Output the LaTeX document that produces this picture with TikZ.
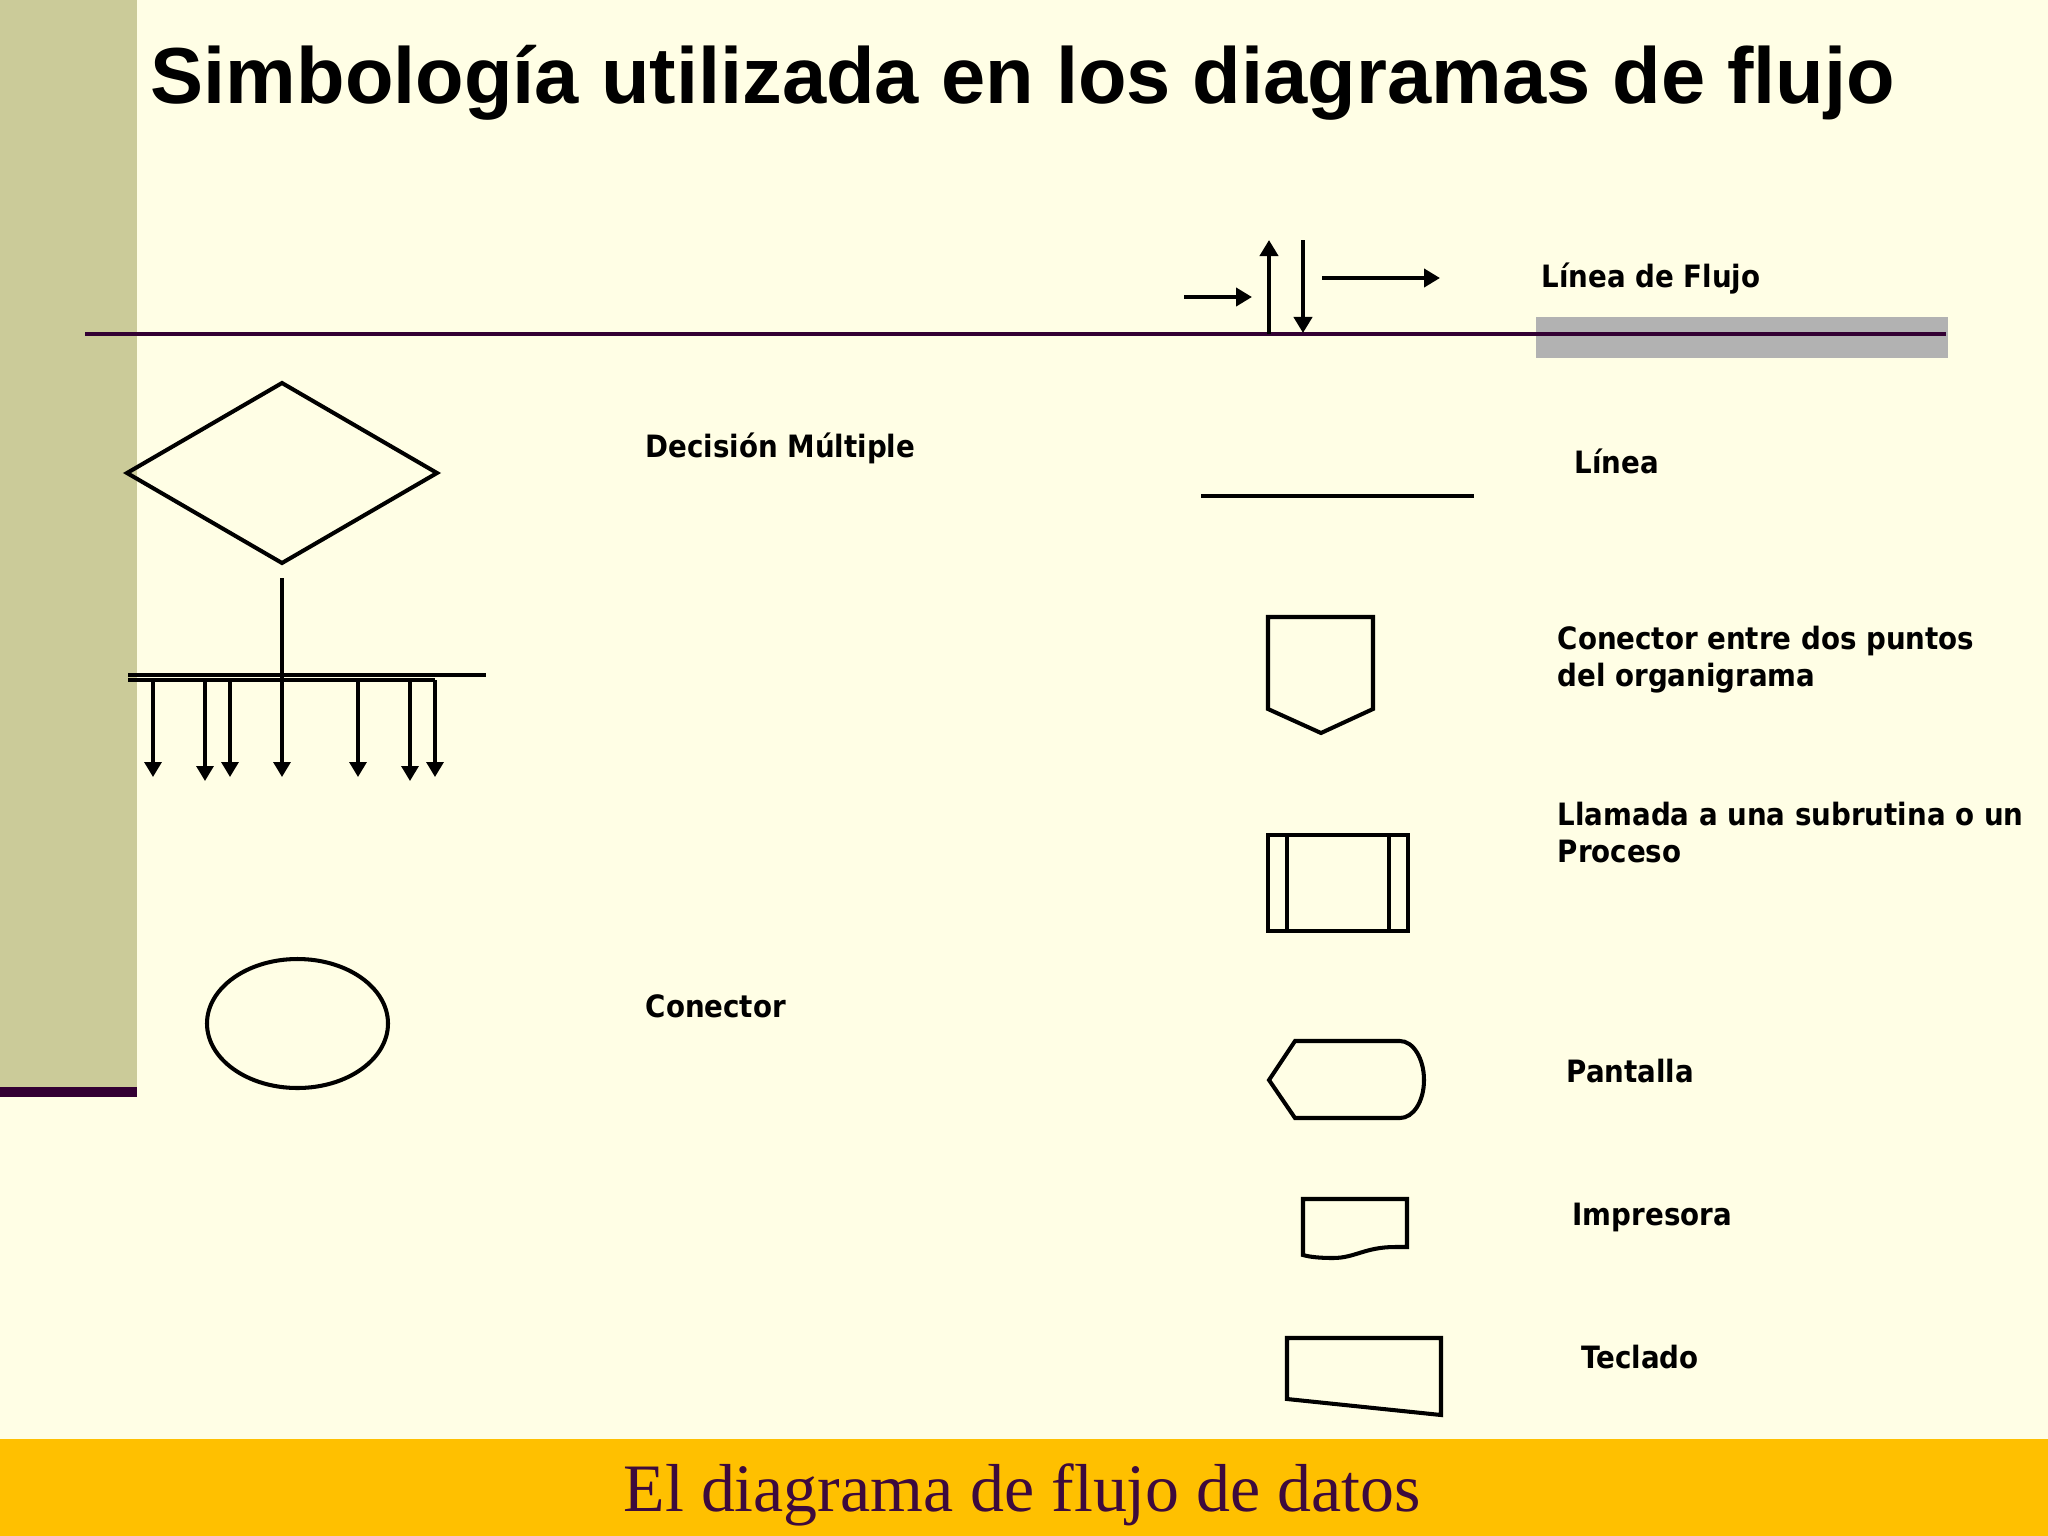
\documentclass[tikz,border=0pt]{standalone}
\usepackage{fontspec}
\usetikzlibrary{arrows.meta}
\newfontfamily\titlefont{Liberation Sans}
\newfontfamily\labfont{DejaVu Sans Condensed}
\newfontfamily\footfont{Liberation Serif}
\definecolor{bgcream}{HTML}{FFFEE5}
\definecolor{sideolive}{HTML}{CBCB99}
\definecolor{darkpurple}{HTML}{330033}
\definecolor{bandgray}{HTML}{B2B2B2}
\definecolor{baryellow}{HTML}{FFC000}
\definecolor{foottext}{HTML}{3D0A3D}
\tikzset{
  sym/.style={draw=black, line width=1.15pt, line join=miter},
  flowarrow/.style={draw=black, line width=1.2pt, -{Triangle[length=0.16cm, width=0.18cm]}},
  busarrow/.style={draw=black, line width=0.9pt, -{Triangle[length=0.15cm, width=0.17cm]}},
  lab/.style={inner sep=0pt, anchor=base west, font=\labfont\bfseries\fontsize{8.75pt}{10.5pt}\selectfont},
}
\begin{document}
\begin{tikzpicture}[x={(0.01cm,0)}, y={(0,-0.01cm)}]
\useasboundingbox (0,0) rectangle (2048,1536);
% background
\fill[bgcream] (0,0) rectangle (2048,1536);
\fill[sideolive] (0,0) rectangle (137,1087);
\fill[darkpurple] (0,1087) rectangle (137,1097);
\fill[baryellow] (0,1439) rectangle (2048,1536);
\fill[bandgray] (1536,317) rectangle (1948,358);
\draw[darkpurple, line width=1.3pt] (85,334) -- (1946,334);

% title
\node[inner sep=0pt, anchor=base west, font=\titlefont\bfseries\fontsize{22.6pt}{26pt}\selectfont] (title) at (150,103) {Simbología utilizada en los diagramas de flujo};

% flow lines
\coordinate (upS) at (1269,334); \coordinate (upE) at (1269,240);
\coordinate (dnS) at (1303,240); \coordinate (dnE) at (1303,333);
\coordinate (shS) at (1184,297); \coordinate (shE) at (1252,297);
\coordinate (lgS) at (1322,278); \coordinate (lgE) at (1440,278);
\draw[flowarrow] (upS) -- (upE);
\draw[flowarrow] (dnS) -- (dnE);
\draw[flowarrow] (shS) -- (shE);
\draw[flowarrow] (lgS) -- (lgE);
\node[lab] (lflujo) at (1541,287) {Línea de Flujo};

% decision multiple
\draw[sym] (127,473) -- (282,383) -- (437,473) -- (282,563) -- cycle;
\draw[busarrow] (282,578) -- (282,777);
\draw[black, line width=0.9pt] (128,675) -- (486,675);
\draw[black, line width=0.9pt] (128,680) -- (435,680);
\foreach \bx/\by in {153/777, 205/781, 230/777, 358/777, 410/781, 435/777}{
  \draw[busarrow] (\bx,680) -- (\bx,\by);
}
\node[lab] (ldec) at (645,457) {Decisión Múltiple};

% connector ellipse
\draw[sym] (297.5,1023.5) ellipse [x radius=90.5, y radius=64.5];
\node[lab] (lcon) at (645,1017) {Conector};

% linea
\draw[black, line width=0.9pt] (1201,496) -- (1474,496);
\node[lab] (llinea) at (1574,473) {Línea};

% off-page connector
\draw[sym] (1268,617) -- (1373,617) -- (1373,709) -- (1321,733) -- (1268,709) -- cycle;
\node[lab] (lcep1) at (1557,649) {Conector entre dos puntos};
\node[lab] (lcep2) at (1557,686) {del organigrama};

% predefined process
\draw[sym] (1268,835) rectangle (1408,931);
\draw[sym] (1287,835) -- (1287,931);
\draw[sym] (1389,835) -- (1389,931);
\node[lab] (lsub1) at (1557,825) {Llamada a una subrutina o un};
\node[lab] (lsub2) at (1557,862) {Proceso};

% display
\draw[sym] (1269,1080) -- (1295,1041) -- (1400,1041)
  .. controls (1413.3,1041) and (1424,1058.7) .. (1424,1080)
  .. controls (1424,1101.3) and (1413.3,1118) .. (1400,1118)
  -- (1295,1118) -- cycle;
\node[lab] (lpan) at (1566,1082) {Pantalla};

% printer (document)
\draw[sym] (1303,1199) -- (1407,1199) -- (1407,1247) -- (1395,1247)
  .. controls (1365,1247) and (1355,1258) .. (1333,1258)
  .. controls (1320,1258) and (1310,1257) .. (1303,1255) -- cycle;
\node[lab] (limp) at (1572,1225) {Impresora};

% keyboard (manual input)
\draw[sym] (1287,1338) -- (1441,1338) -- (1441,1415) -- (1287,1399) -- cycle;
\node[lab] (ltec) at (1581,1368) {Teclado};

% footer
\node[inner sep=0pt, anchor=base west, text=foottext, font=\footfont\fontsize{19.3pt}{22pt}\selectfont] (foot) at (623,1511) {El diagrama de flujo de datos};
\end{tikzpicture}
\end{document}
